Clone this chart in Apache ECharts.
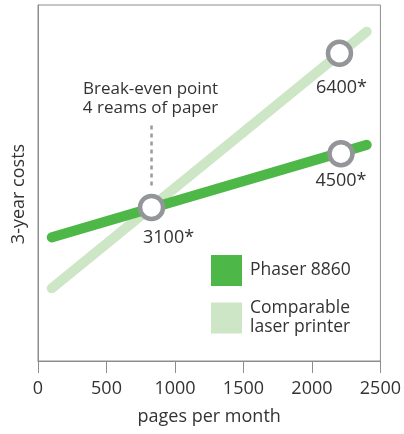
<!DOCTYPE html>
<html>
<head>
<meta charset="utf-8">
<script src="https://cdn.jsdelivr.net/npm/echarts@6/dist/echarts.min.js"></script>
<style>
html,body{margin:0;padding:0;background:#fff;}
#c{width:404px;height:434px;}
</style>
</head>
<body>
<div id="c"></div>
<script>
// x: pages per month; y: 3-year cost (chart is schematic)
const xTicks = [0, 500, 1000, 1500, 2000, 2500];
const phaserX = [100, 2400];
const phaserY = [2430, 4250];
const laserX = [100, 2400];
const laserY = [1430, 6475];
const markerX = [829, 2212, 2201];
const markerY = [3020, 4075, 6050];
const markerLabels = ['3100*', '4500*', '6400*'];
const seriesNames = ['Phaser 8860', 'Comparable laser printer'];
const breakEvenText = ['Break-even point', '4 reams of paper'];

const FONT = '"Open Sans", "Noto Sans", sans-serif';
const TXT = '#333333';
const AX = '#8d8d8d';

const chart = echarts.init(document.getElementById('c'), null, {renderer: 'canvas'});
const labelOffsets = [[17, 30], [0, 27], [2, 35]];

const option = {
  animation: false,
  grid: {left: 38, right: 23, top: 5, bottom: 73, show: true, borderColor: AX, borderWidth: 1},
  xAxis: {
    type: 'value', min: xTicks[0], max: xTicks[xTicks.length - 1], interval: 500,
    name: 'pages per month', nameLocation: 'middle', nameGap: 47,
    nameTextStyle: {fontFamily: FONT, fontSize: 18, color: TXT},
    axisLine: {show: true, lineStyle: {color: AX, width: 1}},
    axisTick: {show: true, length: 12, lineStyle: {color: AX, width: 1}},
    axisLabel: {fontFamily: FONT, fontSize: 18, color: TXT, margin: 19, formatter: v => String(v)},
    splitLine: {show: false}
  },
  yAxis: {
    type: 'value', min: 0, max: 7000,
    name: '3-year costs', nameLocation: 'middle', nameGap: 10, nameRotate: 90,
    nameTextStyle: {fontFamily: FONT, fontSize: 18, color: TXT, padding: [0, 22, 0, 0]},
    axisLine: {show: true, lineStyle: {color: AX, width: 1}},
    axisTick: {show: false}, axisLabel: {show: false}, splitLine: {show: false}
  },
  legend: {
    orient: 'vertical', left: 211, top: 255, padding: 0, itemWidth: 31, itemHeight: 31, itemGap: 13,
    icon: 'rect', selectedMode: false,
    data: seriesNames,
    formatter: n => n === seriesNames[1] ? 'Comparable\nlaser printer' : n,
    textStyle: {fontFamily: FONT, fontSize: 17.5, color: TXT, lineHeight: 19, padding: [0, 0, 0, 3]}
  },
  series: [
    {
      name: seriesNames[1], type: 'line', color: '#cde6c5',
      data: laserX.map((x, i) => [x, laserY[i]]),
      showSymbol: false, symbol: 'none',
      lineStyle: {width: 10, color: '#cde6c5', cap: 'round'}, z: 2
    },
    {
      name: seriesNames[0], type: 'line', color: '#4db848',
      data: phaserX.map((x, i) => [x, phaserY[i]]),
      showSymbol: false, symbol: 'none',
      lineStyle: {width: 10, color: '#4db848', cap: 'round'}, z: 3
    },
    {
      type: 'scatter', z: 5,
      symbol: 'circle', symbolSize: 23,
      itemStyle: {color: '#ffffff', borderColor: '#939598', borderWidth: 4.5, opacity: 1},
      data: markerX.map((x, i) => ({
        value: [x, markerY[i]],
        label: {
          show: true, formatter: markerLabels[i], position: 'inside',
          offset: labelOffsets[i],
          fontFamily: FONT, fontSize: 18, color: TXT
        }
      }))
    }
  ]
};
chart.setOption(option);

// break-even annotation derived from the break-even point
const p = chart.convertToPixel({gridIndex: 0}, [markerX[0], markerY[0]]);
chart.setOption({
  graphic: [
    {
      type: 'line', z: 4,
      shape: {x1: p[0], y1: p[1] - 22, x2: p[0], y2: p[1] - 85},
      style: {stroke: '#9a9a9a', lineWidth: 2.5, lineDash: [4, 4]}
    },
    {
      type: 'text', z: 4,
      x: p[0] - 1, y: p[1] - 128,
      style: {
        text: breakEvenText.join('\n'), fill: TXT, font: '17px ' + FONT,
        align: 'center', verticalAlign: 'top', lineHeight: 19
      }
    }
  ]
});
</script>
</body>
</html>
